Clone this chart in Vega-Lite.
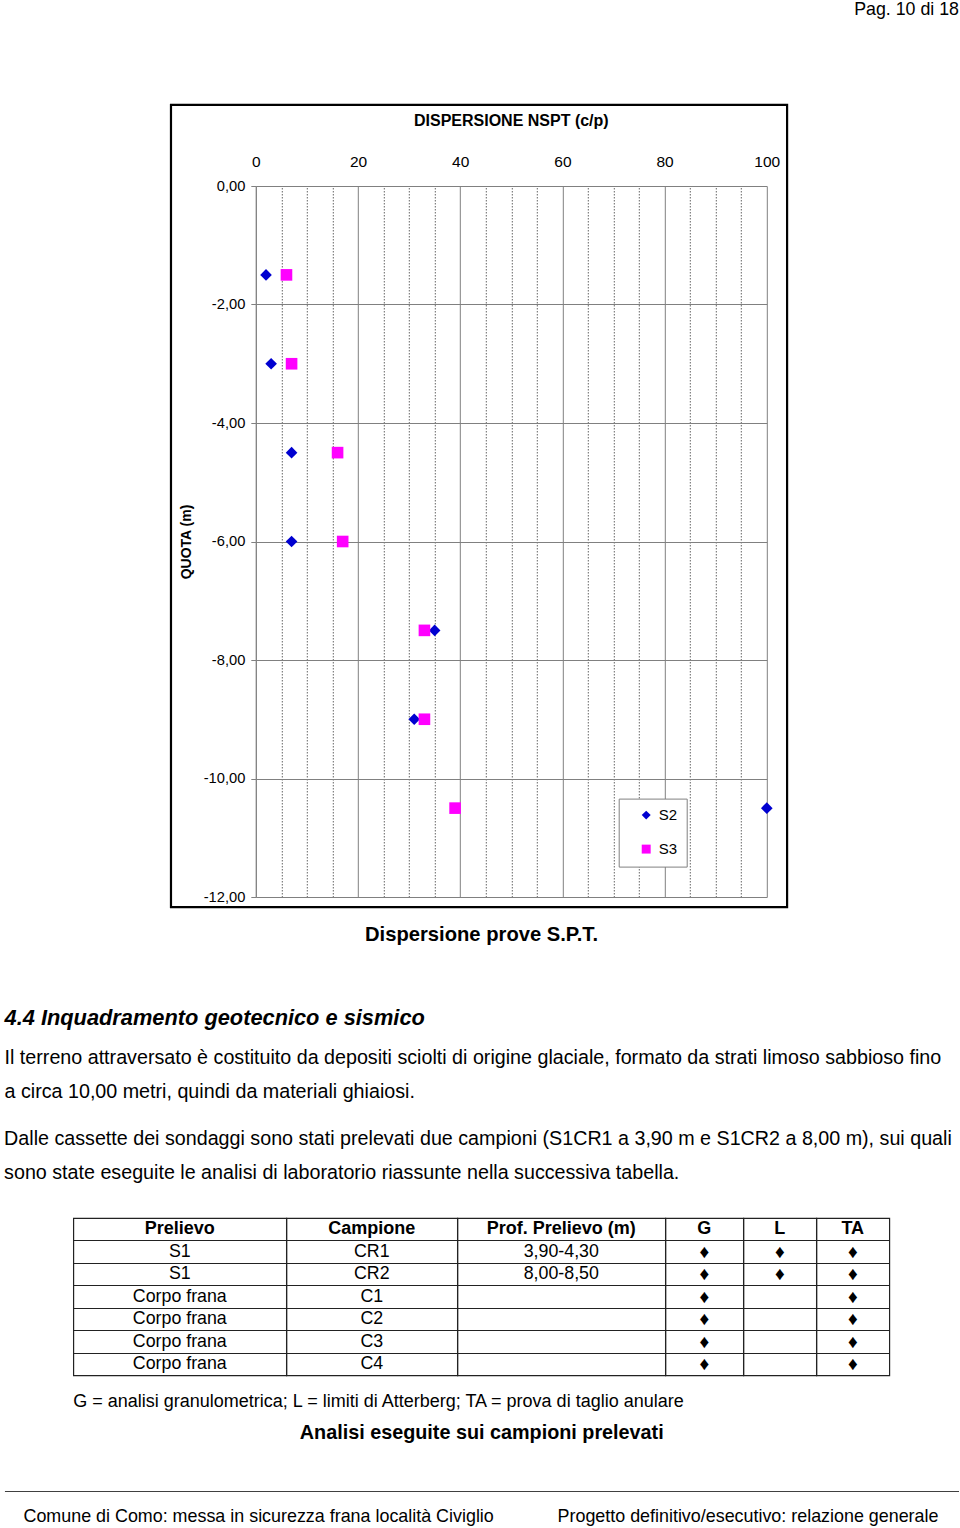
{
  "$schema": "https://vega.github.io/schema/vega-lite/v6.json",
  "background": "white",
  "padding": {"left": 3, "right": 3, "top": 0, "bottom": 0},
  "title": {"text": "Pag. 10 di 18", "anchor": "end", "fontSize": 17.8, "fontWeight": "normal", "offset": 85, "color": "black"},
  "config": {
    "font": "Liberation Sans",
    "view": {"stroke": null},
    "locale": {"number": {"decimal": ",", "thousands": ".", "grouping": [3], "currency": ["", " €"], "minus": "-"}},
    "title": {"color": "black", "subtitleColor": "black"},
    "text": {"color": "black", "font": "Liberation Sans"}
  },
  "spacing": 0,
  "center": true,
  "vconcat": [
    {
      "align": "none",
      "spacing": -6,
      "hconcat": [
        {
          "width": 1,
          "height": 1,
          "data": {"values": []},
          "mark": "text"
        },
        {
          "width": 511,
          "height": 711,
          "title": {"text": "DISPERSIONE NSPT (c/p)", "fontSize": 16, "fontWeight": "bold", "anchor": "middle", "frame": "group", "offset": 0, "dy": 25.5, "color": "black"},
          "layer": [
            {
              "data": {"values": [
                {"serie": "S2", "nspt": 2, "quota": -1.5},
                {"serie": "S2", "nspt": 3, "quota": -3},
                {"serie": "S2", "nspt": 7, "quota": -4.5},
                {"serie": "S2", "nspt": 7, "quota": -6},
                {"serie": "S2", "nspt": 35, "quota": -7.5},
                {"serie": "S2", "nspt": 31, "quota": -9},
                {"serie": "S2", "nspt": 100, "quota": -10.5},
                {"serie": "S3", "nspt": 6, "quota": -1.5},
                {"serie": "S3", "nspt": 7, "quota": -3},
                {"serie": "S3", "nspt": 16, "quota": -4.5},
                {"serie": "S3", "nspt": 17, "quota": -6},
                {"serie": "S3", "nspt": 33, "quota": -7.5},
                {"serie": "S3", "nspt": 33, "quota": -9},
                {"serie": "S3", "nspt": 39, "quota": -10.5}
              ]},
              "mark": {"type": "point", "filled": true, "opacity": 1, "size": 135},
              "encoding": {
                "x": {
                  "field": "nspt", "type": "quantitative",
                  "scale": {"domain": [0, 100], "nice": false, "zero": false},
                  "axis": {
                    "orient": "top", "title": null,
                    "values": [0, 5, 10, 15, 20, 25, 30, 35, 40, 45, 50, 55, 60, 65, 70, 75, 80, 85, 90, 95, 100],
                    "tickCount": 40,
                    "labelExpr": "datum.value % 20 === 0 ? datum.label : ''",
                    "ticks": false, "domain": false, "grid": true,
                    "gridColor": {"condition": {"test": "datum.value % 20 === 0", "value": "#808080"}, "value": "#666666"},
                    "gridDash": {"condition": {"test": "datum.value % 20 === 0", "value": []}, "value": [1.5, 1.5]},
                    "gridOpacity": 1,
                    "labelFontSize": 15.5, "labelColor": "black", "labelPadding": 17,
                    "labelFlush": false, "labelOverlap": false
                  }
                },
                "y": {
                  "field": "quota", "type": "quantitative",
                  "scale": {"domain": [-12, 0], "nice": false, "zero": false},
                  "axis": {
                    "values": [0, -2, -4, -6, -8, -10, -12],
                    "tickCount": 20,
                    "format": ".2f",
                    "grid": true, "gridColor": "#808080", "gridOpacity": 1,
                    "domain": true, "domainColor": "#808080",
                    "ticks": true, "tickColor": "#808080", "tickSize": 5,
                    "labelFontSize": 14.7, "labelColor": "black", "labelPadding": 6,
                    "labelFlush": false, "labelOverlap": false,
                    "title": "QUOTA (m)", "titleFontSize": 14, "titleFontWeight": "bold", "titleColor": "black", "titlePadding": 10
                  }
                },
                "color": {
                  "field": "serie", "type": "nominal",
                  "scale": {"domain": ["S2", "S3"], "range": ["#0000D0", "#FF00FF"]},
                  "legend": {"title": null, "orient": "none", "legendX": 614.7, "legendY": 612.6, "strokeColor": "#808080", "fillColor": "white", "padding": 9, "rowPadding": 18, "symbolSize": 80, "labelFontSize": 15, "labelColor": "black", "symbolOffset": 11, "labelOffset": 5, "symbolStrokeWidth": 0}
                },
                "shape": {
                  "field": "serie", "type": "nominal",
                  "scale": {"domain": ["S2", "S3"], "range": ["diamond", "square"]},
                  "legend": {"title": null, "orient": "none", "legendX": 614.7, "legendY": 612.6, "strokeColor": "#808080", "fillColor": "white", "padding": 9, "rowPadding": 18, "symbolSize": 80, "labelFontSize": 15, "labelColor": "black", "symbolOffset": 11, "labelOffset": 5, "symbolStrokeWidth": 0}
                }
              }
            },
            {
              "data": {"values": [{}]},
              "mark": {"type": "rect", "fill": null, "stroke": "black", "strokeWidth": 2.2},
              "encoding": {
                "x": {"datum": -16.6, "type": "quantitative"},
                "x2": {"datum": 103.97},
                "y": {"datum": 1.37, "type": "quantitative"},
                "y2": {"datum": -12.17}
              }
            }
          ]
        }
      ]
    },
    {
      "spacing": 26,
      "center": true,
      "vconcat": [
        {
          "width": 954,
          "height": 52.8,
          "data": {"values": [{"didascalia": "Dispersione prove S.P.T."}]},
          "mark": {"type": "text", "fontSize": 20.2, "fontWeight": "bold"},
          "encoding": {"text": {"field": "didascalia"}},
          "title": {
            "text": "4.4 Inquadramento geotecnico e sismico",
            "orient": "bottom", "anchor": "start", "frame": "group",
            "fontSize": 21.8, "fontWeight": "bold", "fontStyle": "italic", "offset": 46,
            "subtitle": [
              "Il terreno attraversato è costituito da depositi sciolti di origine glaciale, formato da strati limoso sabbioso fino",
              "a circa 10,00 metri, quindi da materiali ghiaiosi."
            ],
            "subtitleFontSize": 19.7, "subtitleLineHeight": 34, "subtitlePadding": 18, "subtitleColor": "black"
          }
        },
        {
          "title": {
            "text": [
              "Dalle cassette dei sondaggi sono stati prelevati due campioni (S1CR1 a 3,90 m e S1CR2 a 8,00 m), sui quali",
              "sono state eseguite le analisi di laboratorio riassunte nella successiva tabella."
            ],
            "anchor": "start", "frame": "group",
            "fontSize": 19.7, "fontWeight": "normal", "lineHeight": 34, "offset": 35
          },
          "spacing": 17,
          "center": true,
          "vconcat": [
            {
              "data": {"values": [
                {"n": 0, "prelievo": "Prelievo", "campione": "Campione", "prof": "Prof. Prelievo (m)", "g": "G", "l": "L", "ta": "TA"},
                {"n": 1, "prelievo": "S1", "campione": "CR1", "prof": "3,90-4,30", "g": "♦", "l": "♦", "ta": "♦"},
                {"n": 2, "prelievo": "S1", "campione": "CR2", "prof": "8,00-8,50", "g": "♦", "l": "♦", "ta": "♦"},
                {"n": 3, "prelievo": "Corpo frana", "campione": "C1", "prof": "", "g": "♦", "l": "", "ta": "♦"},
                {"n": 4, "prelievo": "Corpo frana", "campione": "C2", "prof": "", "g": "♦", "l": "", "ta": "♦"},
                {"n": 5, "prelievo": "Corpo frana", "campione": "C3", "prof": "", "g": "♦", "l": "", "ta": "♦"},
                {"n": 6, "prelievo": "Corpo frana", "campione": "C4", "prof": "", "g": "♦", "l": "", "ta": "♦"}
              ]},
              "spacing": 0,
              "bounds": "flush",
              "hconcat": [
                {
                  "width": 213, "height": 157.4,
                  "view": {"stroke": "#222222", "strokeWidth": 1.2},
                  "encoding": {"y": {"field": "n", "type": "ordinal", "scale": {"type": "band", "domain": [0, 1, 2, 3, 4, 5, 6], "paddingInner": 0, "paddingOuter": 0}, "axis": {"grid": true, "tickBand": "extent", "labels": false, "ticks": false, "domain": false, "title": null, "gridColor": "#222222", "gridWidth": 1.2, "gridOpacity": 1}}},
                  "layer": [
                    {"transform": [{"filter": "datum.n === 0"}], "mark": {"type": "text", "fontSize": 18, "fontWeight": "bold"}, "encoding": {"text": {"field": "prelievo"}}},
                    {"transform": [{"filter": "datum.n > 0"}], "mark": {"type": "text", "fontSize": 17.8}, "encoding": {"text": {"field": "prelievo"}}}
                  ]
                },
                {
                  "width": 171, "height": 157.4,
                  "view": {"stroke": "#222222", "strokeWidth": 1.2},
                  "encoding": {"y": {"field": "n", "type": "ordinal", "scale": {"type": "band", "domain": [0, 1, 2, 3, 4, 5, 6], "paddingInner": 0, "paddingOuter": 0}, "axis": {"grid": true, "tickBand": "extent", "labels": false, "ticks": false, "domain": false, "title": null, "gridColor": "#222222", "gridWidth": 1.2, "gridOpacity": 1}}},
                  "layer": [
                    {"transform": [{"filter": "datum.n === 0"}], "mark": {"type": "text", "fontSize": 18, "fontWeight": "bold"}, "encoding": {"text": {"field": "campione"}}},
                    {"transform": [{"filter": "datum.n > 0"}], "mark": {"type": "text", "fontSize": 17.8}, "encoding": {"text": {"field": "campione"}}}
                  ]
                },
                {
                  "width": 208, "height": 157.4,
                  "view": {"stroke": "#222222", "strokeWidth": 1.2},
                  "encoding": {"y": {"field": "n", "type": "ordinal", "scale": {"type": "band", "domain": [0, 1, 2, 3, 4, 5, 6], "paddingInner": 0, "paddingOuter": 0}, "axis": {"grid": true, "tickBand": "extent", "labels": false, "ticks": false, "domain": false, "title": null, "gridColor": "#222222", "gridWidth": 1.2, "gridOpacity": 1}}},
                  "layer": [
                    {"transform": [{"filter": "datum.n === 0"}], "mark": {"type": "text", "fontSize": 18, "fontWeight": "bold"}, "encoding": {"text": {"field": "prof"}}},
                    {"transform": [{"filter": "datum.n > 0"}], "mark": {"type": "text", "fontSize": 17.8}, "encoding": {"text": {"field": "prof"}}}
                  ]
                },
                {
                  "width": 78, "height": 157.4,
                  "view": {"stroke": "#222222", "strokeWidth": 1.2},
                  "encoding": {"y": {"field": "n", "type": "ordinal", "scale": {"type": "band", "domain": [0, 1, 2, 3, 4, 5, 6], "paddingInner": 0, "paddingOuter": 0}, "axis": {"grid": true, "tickBand": "extent", "labels": false, "ticks": false, "domain": false, "title": null, "gridColor": "#222222", "gridWidth": 1.2, "gridOpacity": 1}}},
                  "layer": [
                    {"transform": [{"filter": "datum.n === 0"}], "mark": {"type": "text", "fontSize": 18, "fontWeight": "bold"}, "encoding": {"text": {"field": "g"}}},
                    {"transform": [{"filter": "datum.n > 0"}], "mark": {"type": "text", "fontSize": 19}, "encoding": {"text": {"field": "g"}}}
                  ]
                },
                {
                  "width": 73, "height": 157.4,
                  "view": {"stroke": "#222222", "strokeWidth": 1.2},
                  "encoding": {"y": {"field": "n", "type": "ordinal", "scale": {"type": "band", "domain": [0, 1, 2, 3, 4, 5, 6], "paddingInner": 0, "paddingOuter": 0}, "axis": {"grid": true, "tickBand": "extent", "labels": false, "ticks": false, "domain": false, "title": null, "gridColor": "#222222", "gridWidth": 1.2, "gridOpacity": 1}}},
                  "layer": [
                    {"transform": [{"filter": "datum.n === 0"}], "mark": {"type": "text", "fontSize": 18, "fontWeight": "bold"}, "encoding": {"text": {"field": "l"}}},
                    {"transform": [{"filter": "datum.n > 0"}], "mark": {"type": "text", "fontSize": 19}, "encoding": {"text": {"field": "l"}}}
                  ]
                },
                {
                  "width": 73, "height": 157.4,
                  "view": {"stroke": "#222222", "strokeWidth": 1.2},
                  "encoding": {"y": {"field": "n", "type": "ordinal", "scale": {"type": "band", "domain": [0, 1, 2, 3, 4, 5, 6], "paddingInner": 0, "paddingOuter": 0}, "axis": {"grid": true, "tickBand": "extent", "labels": false, "ticks": false, "domain": false, "title": null, "gridColor": "#222222", "gridWidth": 1.2, "gridOpacity": 1}}},
                  "layer": [
                    {"transform": [{"filter": "datum.n === 0"}], "mark": {"type": "text", "fontSize": 18, "fontWeight": "bold"}, "encoding": {"text": {"field": "ta"}}},
                    {"transform": [{"filter": "datum.n > 0"}], "mark": {"type": "text", "fontSize": 19}, "encoding": {"text": {"field": "ta"}}}
                  ]
                }
              ]
            },
            {
              "spacing": 37,
              "center": true,
              "vconcat": [
                {
                  "width": 817,
                  "height": 40,
                  "data": {"values": [{"didascalia": "Analisi eseguite sui campioni prelevati"}]},
                  "mark": {"type": "text", "fontSize": 19.8, "fontWeight": "bold"},
                  "encoding": {"text": {"field": "didascalia"}},
                  "title": {"text": "G = analisi granulometrica; L = limiti di Atterberg; TA = prova di taglio anulare", "anchor": "start", "frame": "group", "fontSize": 18, "fontWeight": "normal", "offset": 2}
                },
                {
                  "width": 954,
                  "height": 0.01,
                  "view": {"stroke": "#404040", "strokeWidth": 1},
                  "layer": [
                    {
                      "data": {"values": [{"piede": "Comune di Como: messa in sicurezza frana località Civiglio"}]},
                      "mark": {"type": "text", "fontSize": 17.9, "align": "left", "dx": -458, "dy": 26},
                      "encoding": {"text": {"field": "piede"}}
                    },
                    {
                      "data": {"values": [{"piede": "Progetto definitivo/esecutivo: relazione generale"}]},
                      "mark": {"type": "text", "fontSize": 17.9, "align": "right", "dx": 457, "dy": 26},
                      "encoding": {"text": {"field": "piede"}}
                    }
                  ]
                }
              ]
            }
          ]
        }
      ]
    }
  ]
}
